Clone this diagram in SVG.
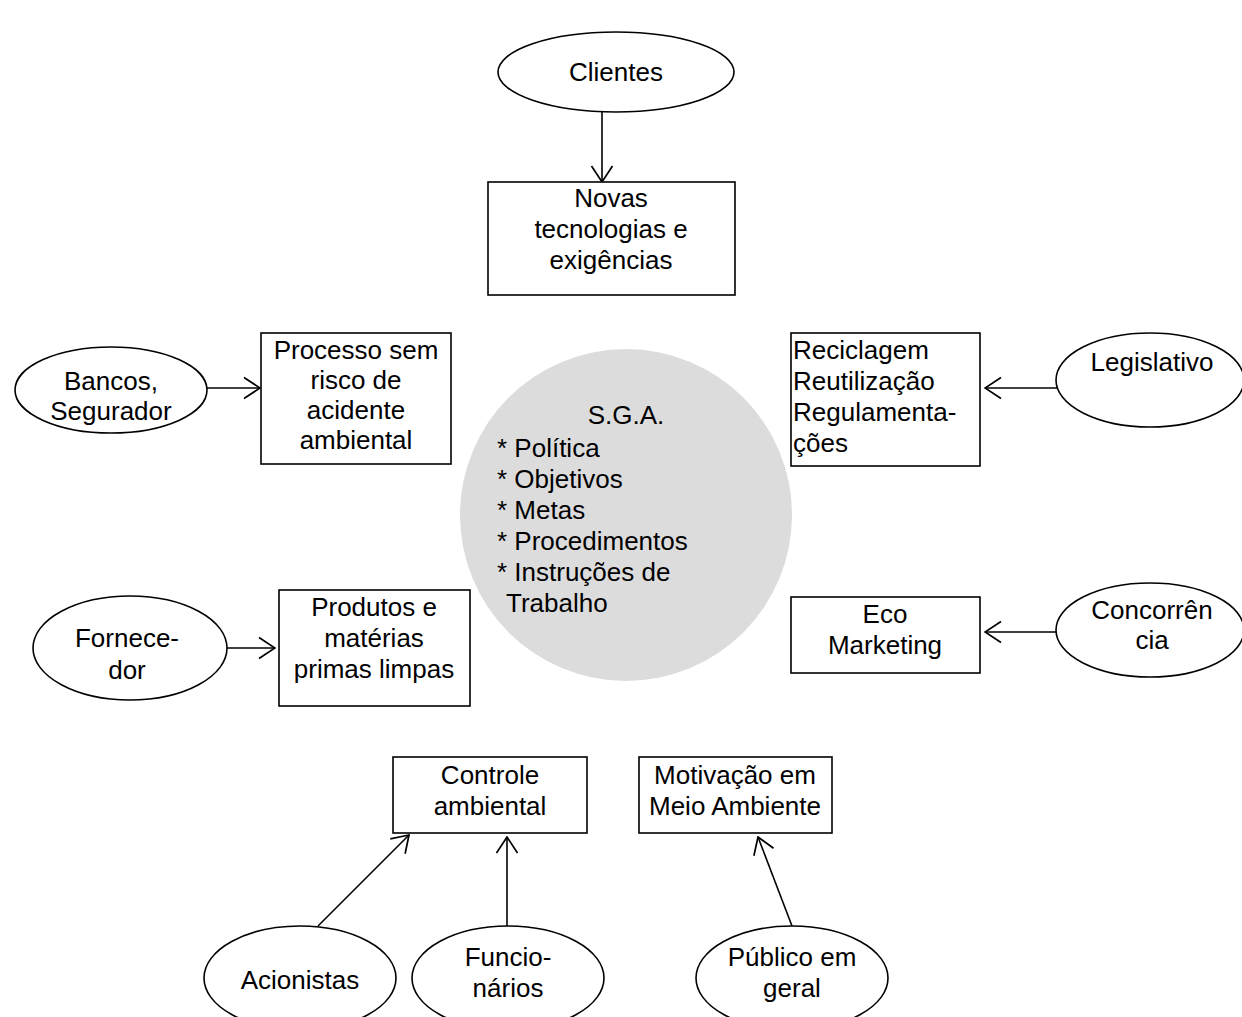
<svg xmlns="http://www.w3.org/2000/svg" width="1242" height="1017" viewBox="0 0 1242 1017">
  <style>
    .shape { fill: #ffffff; stroke: #000000; stroke-width: 1.6; }
    .hub { fill: #dcdcdc; stroke: none; }
    text { font-family: "Liberation Sans", Arial, sans-serif; font-size: 26px; fill: #000000; }
    .c { text-anchor: middle; }
    .edge { fill: none; stroke: #000000; stroke-width: 1.6; marker-end: url(#open); }
  </style>
  <defs>
    <!-- open V-shaped arrowhead -->
    <marker id="open" viewBox="0 0 18 24" refX="17" refY="12" markerWidth="18" markerHeight="24" markerUnits="userSpaceOnUse" orient="auto">
      <path d="M1,1.5 L17,12 L1,22.5" fill="none" stroke="#000000" stroke-width="1.7"/>
    </marker>
  </defs>
  <rect width="1242" height="1017" fill="#ffffff"/>

  <g id="connectors">
    <line class="edge" x1="602" y1="112" x2="602" y2="182"/>
    <line class="edge" x1="207" y1="388" x2="260" y2="388"/>
    <line class="edge" x1="1057" y1="388" x2="985" y2="388"/>
    <line class="edge" x1="227" y1="648" x2="275" y2="648"/>
    <line class="edge" x1="1057" y1="632" x2="985" y2="632"/>
    <line class="edge" x1="318" y1="926" x2="409" y2="835"/>
    <line class="edge" x1="507" y1="926" x2="507" y2="837"/>
    <line class="edge" x1="792" y1="926" x2="758" y2="837"/>
  </g>

  <g id="sga">
    <circle class="hub" cx="626" cy="515" r="166"/>
    <text class="c" x="626" y="424">S.G.A.</text>
    <text x="497" y="457">* Política</text>
    <text x="497" y="488">* Objetivos</text>
    <text x="497" y="519">* Metas</text>
    <text x="497" y="550">* Procedimentos</text>
    <text x="497" y="581">* Instruções de</text>
    <text x="506" y="612">Trabalho</text>
  </g>

  <g id="clientes">
    <ellipse class="shape" cx="616" cy="72" rx="118" ry="40"/>
    <text class="c" x="616" y="81">Clientes</text>
  </g>

  <g id="novas-tecnologias">
    <rect class="shape" x="488" y="182" width="247" height="113"/>
    <text class="c" x="611" y="207">Novas</text>
    <text class="c" x="611" y="238">tecnologias e</text>
    <text class="c" x="611" y="269">exigências</text>
  </g>

  <g id="bancos">
    <ellipse class="shape" cx="111" cy="390" rx="96" ry="43"/>
    <text class="c" x="111" y="390">Bancos,</text>
    <text class="c" x="111" y="420">Segurador</text>
  </g>

  <g id="processo">
    <rect class="shape" x="261" y="333" width="190" height="131"/>
    <text class="c" x="356" y="359">Processo sem</text>
    <text class="c" x="356" y="389">risco de</text>
    <text class="c" x="356" y="419">acidente</text>
    <text class="c" x="356" y="449">ambiental</text>
  </g>

  <g id="reciclagem">
    <rect class="shape" x="791" y="333" width="189" height="133"/>
    <text x="793" y="359">Reciclagem</text>
    <text x="793" y="390">Reutilização</text>
    <text x="793" y="421">Regulamenta-</text>
    <text x="793" y="452">ções</text>
  </g>

  <g id="legislativo">
    <ellipse class="shape" cx="1150" cy="380" rx="94" ry="47"/>
    <text class="c" x="1152" y="371">Legislativo</text>
  </g>

  <g id="fornecedor">
    <ellipse class="shape" cx="130" cy="648" rx="97" ry="52"/>
    <text class="c" x="127" y="647">Fornece-</text>
    <text class="c" x="127" y="679">dor</text>
  </g>

  <g id="produtos">
    <rect class="shape" x="279" y="590" width="191" height="116"/>
    <text class="c" x="374" y="616">Produtos e</text>
    <text class="c" x="374" y="647">matérias</text>
    <text class="c" x="374" y="678">primas limpas</text>
  </g>

  <g id="eco-marketing">
    <rect class="shape" x="791" y="597" width="189" height="76"/>
    <text class="c" x="885" y="623">Eco</text>
    <text class="c" x="885" y="654">Marketing</text>
  </g>

  <g id="concorrencia">
    <ellipse class="shape" cx="1150" cy="630" rx="94" ry="47"/>
    <text class="c" x="1152" y="619">Concorrên</text>
    <text class="c" x="1152" y="649">cia</text>
  </g>

  <g id="controle">
    <rect class="shape" x="393" y="757" width="194" height="76"/>
    <text class="c" x="490" y="784">Controle</text>
    <text class="c" x="490" y="815">ambiental</text>
  </g>

  <g id="motivacao">
    <rect class="shape" x="639" y="757" width="193" height="76"/>
    <text class="c" x="735" y="784">Motivação em</text>
    <text class="c" x="735" y="815">Meio Ambiente</text>
  </g>

  <g id="acionistas">
    <ellipse class="shape" cx="300" cy="978" rx="96" ry="52"/>
    <text class="c" x="300" y="989">Acionistas</text>
  </g>

  <g id="funcionarios">
    <ellipse class="shape" cx="508" cy="978" rx="96" ry="52"/>
    <text class="c" x="508" y="966">Funcio-</text>
    <text class="c" x="508" y="997">nários</text>
  </g>

  <g id="publico">
    <ellipse class="shape" cx="792" cy="978" rx="96" ry="52"/>
    <text class="c" x="792" y="966">Público em</text>
    <text class="c" x="792" y="997">geral</text>
  </g>
</svg>
